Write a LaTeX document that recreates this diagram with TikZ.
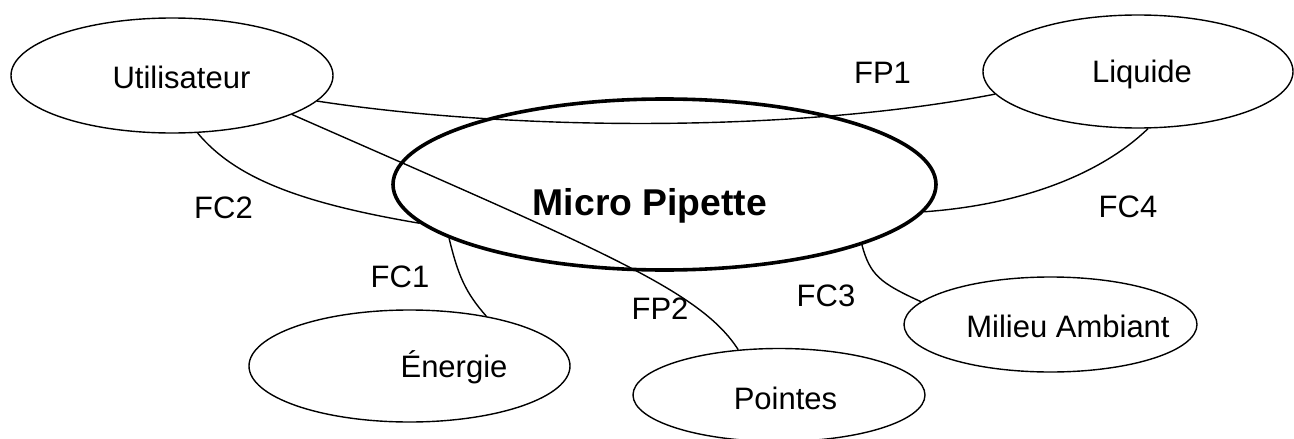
\documentclass[tikz,border=0pt]{standalone}
\usepackage{fontspec}
\setmainfont{Liberation Sans}
\usetikzlibrary{shapes.geometric}

\tikzset{
  bulle/.style={draw, ellipse, line width=1.4pt, inner sep=0pt},
  nom/.style={anchor=base, font=\fontsize{31}{36}\selectfont},
  lien/.style={line width=1.4pt},
}

\begin{document}
\begin{tikzpicture}[x=1pt, y=-1pt]
\useasboundingbox (0,0) rectangle (1294,439);

\node[bulle, minimum width=322pt, minimum height=115pt] (util) at (172,75.5) {};
\node[bulle, minimum width=310pt, minimum height=113pt] (liq) at (1138,71.5) {};
\node[bulle, line width=3.6pt, minimum width=543pt, minimum height=171pt] (pip) at (664.5,184.5) {};
\node[bulle, minimum width=321pt, minimum height=112pt] (ener) at (409.5,366) {};
\node[bulle, minimum width=292pt, minimum height=93pt] (pte) at (779,395) {};
\node[bulle, minimum width=293pt, minimum height=95pt] (mil) at (1050.5,324.5) {};

\node[nom] (tutil) at (181.5,88) {Utilisateur};
\node[nom] (tliq) at (1142,82) {Liquide};
\node[nom, font=\fontsize{37.3}{42}\selectfont\bfseries] (tpip) at (650,215) {Micro Pipette};
\node[nom] (tener) at (454,377) {Énergie};
\node[nom] (tpte) at (785.5,409) {Pointes};
\node[nom] (tmil) at (1068,337) {Milieu Ambiant};

\draw[lien] (util.-10) .. controls (520,132) and (800,132) .. (liq.189);
\draw[lien] (util.-18) .. controls (600,250) and (700,290) .. (pte.132);
\draw[lien] (util.-66) .. controls (235,178) and (300,203) .. (pip.189);
\draw[lien] (pip.194) .. controls (458,275) and (465,292) .. (ener.33);
\draw[lien] (pip.-17) .. controls (870,275) and (880,283) .. (mil.170);
\draw[lien] (pip.-6) .. controls (1020,205) and (1100,175) .. (liq.-80);

\node[nom] (fp1) at (882.5,83) {FP1};
\node[nom] (fc2) at (223.5,218) {FC2};
\node[nom] (fc1) at (400,287) {FC1};
\node[nom] (fp2) at (660,319) {FP2};
\node[nom] (fc3) at (826,306) {FC3};
\node[nom] (fc4) at (1128,217) {FC4};

\end{tikzpicture}
\end{document}
